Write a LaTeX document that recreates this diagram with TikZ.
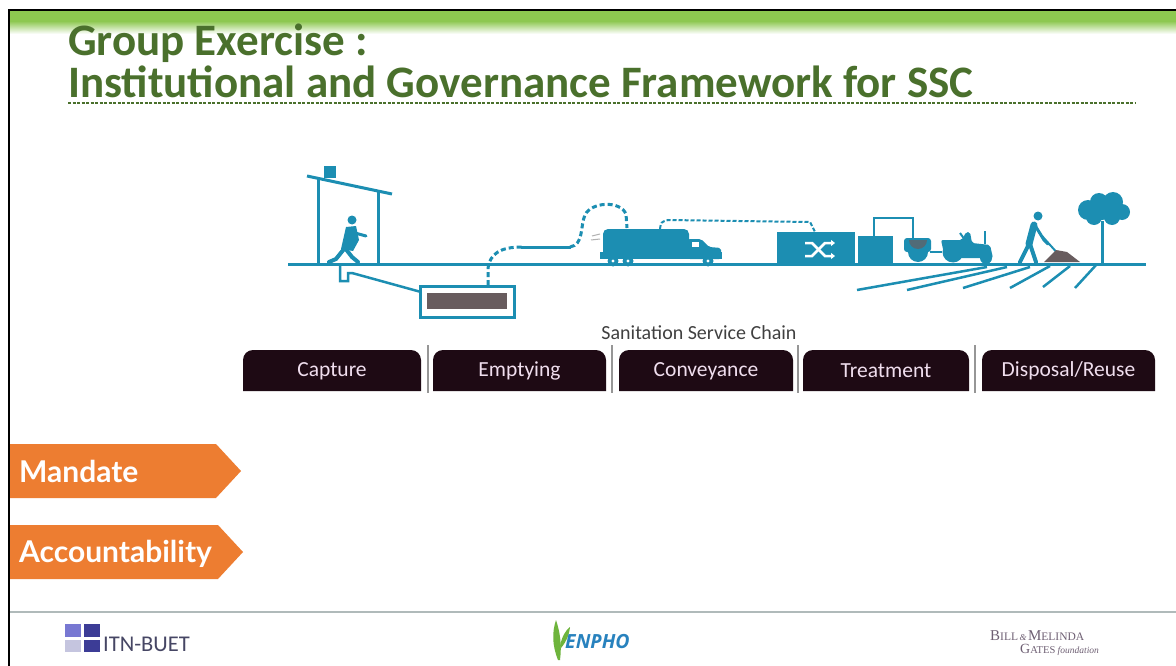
\documentclass[tikz,border=0pt]{standalone}
\usepackage{fontspec}
\setmainfont{Carlito}
\newfontfamily\tagfont{Lato}
\newfontfamily\logoserif{Liberation Serif}
\newfontfamily\logosans{Open Sans}
\usetikzlibrary{arrows.meta}

\definecolor{band}{RGB}{141,200,80}
\definecolor{titlegreen}{RGB}{74,112,44}
\definecolor{scene}{RGB}{28,142,178}
\definecolor{sludge}{RGB}{104,92,94}
\definecolor{tabbg}{RGB}{30,10,20}
\definecolor{tabtext}{RGB}{240,222,238}
\definecolor{tagorange}{RGB}{237,125,49}
\definecolor{sepgray}{RGB}{150,150,150}
\definecolor{footline}{RGB}{176,186,186}
\definecolor{itnblue}{RGB}{60,60,150}
\definecolor{itnlight}{RGB}{120,120,210}
\definecolor{itntext}{RGB}{70,70,100}
\definecolor{enphoblue}{RGB}{40,130,190}
\definecolor{enphogreen}{RGB}{110,180,60}
\definecolor{gatesgray}{RGB}{110,95,115}

\tikzset{
  title/.style={anchor=base west, inner sep=0pt, text=titlegreen,
    font=\fontsize{45}{45}\selectfont\bfseries},
  sc/.style={draw=scene, line width=3pt},
  hose/.style={draw=scene, line width=3pt, dash pattern=on 5pt off 3pt},
  tablabel/.style={text=tabtext, inner sep=0pt, font=\fontsize{21.5}{21.5}\selectfont},
  tagtext/.style={anchor=base west, inner sep=0pt, text=white,
    font=\tagfont\bfseries\fontsize{30}{30}\selectfont},
  sepline/.style={draw=sepgray, line width=1.2pt},
}

% one tab of the service chain: left x, right x, node name, label
\newcommand\chaintab[4]{%
  \fill[tabbg] (#1,391) [rounded corners=10pt] -- (#1,350) -- (#2,350)
    [sharp corners] -- (#2,391) -- cycle;
  \node[tablabel] (#3) at ({(#1+#2)/2},371) {#4};
}

\begin{document}
\begin{tikzpicture}[x=1pt,y=-1pt]
\useasboundingbox (0,0) rectangle (1176,666);
\fill[white] (0,0) rectangle (1176,666);

% header band and frame
\shade[top color=band, bottom color=white] (9,21) rectangle (1176,34);
\fill[band] (9,11) rectangle (1176,22);
\draw[black, line width=2pt] (9,666) -- (9,10) -- (1176,10);

% title
\node[title] (t1) at (68,56) {Group Exercise :};
\node[title] (t2) at (68,98) {Institutional and Governance Framework for SSC};
\draw[titlegreen, line width=2pt, dash pattern=on 3pt off 1.5pt] (68,103) -- (1135,103);

% ---------------- sanitation scene ----------------
\draw[sc] (288,264) -- (1146,264);

% latrine shelter
\draw[sc] (318,264) -- (318,178);
\draw[sc] (378,264) -- (378,190);
\draw[sc] (307,176) -- (392,194);
\fill[scene] (324,166) rectangle (336,178);

% user
\fill[scene] (352,220) circle (4.5pt);
\fill[scene] (346,227) -- (356,226) -- (359,240) -- (353,251) -- (341,249) -- cycle;
\draw[scene, line width=3pt, line cap=round] (355,233) -- (366,236);
\draw[scene, line width=4pt, line cap=round] (345,248) -- (352,257) -- (358,262);
\draw[scene, line width=4pt, line cap=round] (344,249) -- (336,259) -- (329,262);

% pipe to the tank
\draw[scene, line width=2.5pt] (340,264) -- (340,281) -- (348,281) -- (348,273) -- (352,273) -- (421,292);

% containment tank
\draw[scene, line width=3pt] (420,286) rectangle (514,317);
\fill[sludge] (427,293) rectangle (507,309);

% emptying hose
\draw[hose] (488,285) -- (488,268) .. controls (490,254) and (500,247) .. (522,247);
\draw[sc] (521,247) -- (571,247);
\draw[hose] (570,247) .. controls (584,245) and (580,226) .. (585,215)
  .. controls (591,202) and (620,200) .. (626,214) -- (627,228);
\draw[gray!60, line width=1pt] (592,236) -- (600,234) (591,240) -- (600,239);

% vacuum truck
\fill[scene, rounded corners=5pt] (603,229) rectangle (689,257);
\fill[scene] (600,252) rectangle (722,259);
\fill[scene, rounded corners=2pt] (688,239) -- (701,239) -- (709,247) -- (721,248)
  -- (721,259) -- (688,259) -- cycle;
\fill[white] (692,242) rectangle (699,247);
\foreach \wx in {613,628,708}{
  \fill[scene] (\wx,261) circle (5.5pt);
  \fill[white] (\wx,261) circle (1.6pt);
}

% conveyance line to treatment
\draw[scene, line width=2pt, dash pattern=on 4pt off 2pt] (660,229) .. controls (661,222) .. (668,220)
  -- (810,222) -- (815,232);

% treatment plant
\fill[scene] (777,232) rectangle (855,264);
\fill[scene] (858,236) rectangle (893,264);
\draw[scene, line width=2.5pt] (874,237) -- (874,218) -- (913,218) -- (913,238);
\draw[white, line width=2.5pt, -{Triangle[length=4pt,width=6pt]}] (805,243) -- (812,243) -- (825,256) -- (835,256);
\draw[white, line width=2.5pt, -{Triangle[length=4pt,width=6pt]}] (805,256) -- (812,256) -- (825,243) -- (835,243);

% trailer and tractor
\fill[scene, rounded corners=3pt] (904,238) rectangle (931,252);
\fill[scene] (918,252) circle (10pt);
\fill[sludge!70!scene] (909,240) arc[start angle=180, end angle=360, radius=9pt] -- cycle;
\draw[scene, line width=2pt] (930,252) -- (942,252);
\fill[scene] (953,252) circle (10.5pt);
\fill[scene, rounded corners=2pt] (941,240) -- (962,240) -- (966,232) -- (970,232) -- (972,243)
  -- (990,245) -- (993,258) -- (945,258) -- cycle;
\fill[scene] (986,258) circle (6pt);
\draw[scene, line width=2pt] (985,244) -- (985,231);
\draw[scene, line width=2pt] (965,240) -- (960,233);

% farmer with hoe
\fill[scene] (1038,216) circle (4.5pt);
\draw[scene, line width=7pt, line cap=round] (1034,225) -- (1029,244);
\draw[scene, line width=3pt, line cap=round] (1036,227) -- (1044,240) -- (1048,244);
\draw[scene, line width=2pt] (1042,236) -- (1060,256);
\draw[scene, line width=4pt, line cap=round] (1029,244) -- (1020,262);
\draw[scene, line width=4pt, line cap=round] (1030,244) -- (1036,262);
\fill[sludge] (1044,262) -- (1056,250) -- (1067,252) -- (1080,262) -- cycle;

% tree
\draw[sc] (1102,264) -- (1102,221);
\fill[scene] (1088,210) circle (10pt) (1099,202) circle (9pt) (1113,202) circle (10pt)
  (1122,212) circle (8pt) (1094,217) circle (8pt) (1112,217) circle (8pt) (1102,210) circle (10pt);

% infiltration lines
\draw[scene, line width=2.5pt] (857,290) -- (987,267);
\draw[scene, line width=2.5pt] (907,290) -- (1007,267);
\draw[scene, line width=2.5pt] (963,288) -- (1030,267);
\draw[scene, line width=2.5pt] (1010,288) -- (1050,266);
\draw[scene, line width=2.5pt] (1043,287) -- (1070,266);
\draw[scene, line width=2.5pt] (1075,288) -- (1097,264);

% ---------------- service chain ----------------
\node[text=black!75, inner sep=0pt, font=\fontsize{20}{20}\selectfont] (chain) at (699,333) {Sanitation Service Chain};
\chaintab{243}{421}{capture}{Capture}
\chaintab{433}{606}{emptying}{Emptying}
\chaintab{619}{793}{conveyance}{Conveyance}
\chaintab{803}{969}{treatment}{Treatment}
\chaintab{982}{1155}{disposal}{Disposal/Reuse}
\foreach \sx in {428,612,798,975}{ \draw[sepline] (\sx,345) -- (\sx,393); }

% ---------------- tags ----------------
\fill[tagorange] (10,444) -- (216,444) -- (241,471) -- (216,498) -- (10,498) -- cycle;
\node[tagtext] (mandate) at (19,482) {Mandate};
\fill[tagorange] (10,525) -- (218,525) -- (243,552) -- (218,579) -- (10,579) -- cycle;
\node[tagtext] (account) at (19,562) {Accountability};

% ---------------- footer ----------------
\draw[footline, line width=1.5pt] (10,612) -- (1176,612);

% ITN-BUET
\fill[itnlight] (65,624) rectangle (81,637);
\fill[itnblue] (84,624) rectangle (100,637);
\fill[itnblue!30] (65,640) rectangle (81,652);
\fill[itnblue] (84,640) rectangle (100,652);
\node[anchor=base west, inner sep=0pt, text=itntext, font=\fontsize{22.5}{22.5}\selectfont] (itn) at (103,651) {ITN-BUET};

% ENPHO
\fill[enphogreen] (558,660) .. controls (552,645) and (552,632) .. (556,620)
  .. controls (560,632) and (562,645) .. (560,660) -- cycle;
\fill[enphogreen] (560,646) .. controls (562,636) and (566,630) .. (570,627)
  .. controls (569,636) and (566,642) .. (561,648) -- cycle;
\node[anchor=base west, inner sep=0pt, text=enphoblue, font=\logosans\bfseries\itshape\fontsize{19.5}{19.5}\selectfont] (enpho) at (565,648) {ENPHO};

% Bill & Melinda Gates Foundation
\node[anchor=base west, inner sep=0pt, text=gatesgray, font=\logoserif\fontsize{15}{15}\selectfont] (gates1) at (990,640)
  {B{\fontsize{11.5}{11.5}\selectfont ILL}{\itshape\fontsize{9}{9}\selectfont\,\&\,}M{\fontsize{11.5}{11.5}\selectfont ELINDA}};
\node[anchor=base west, inner sep=0pt, text=gatesgray, font=\logoserif\fontsize{14}{14}\selectfont] (gates2) at (1020,653)
  {G{\fontsize{10.5}{10.5}\selectfont ATES}\,{\itshape\fontsize{9.5}{9.5}\selectfont foundation}};
\end{tikzpicture}
\end{document}
